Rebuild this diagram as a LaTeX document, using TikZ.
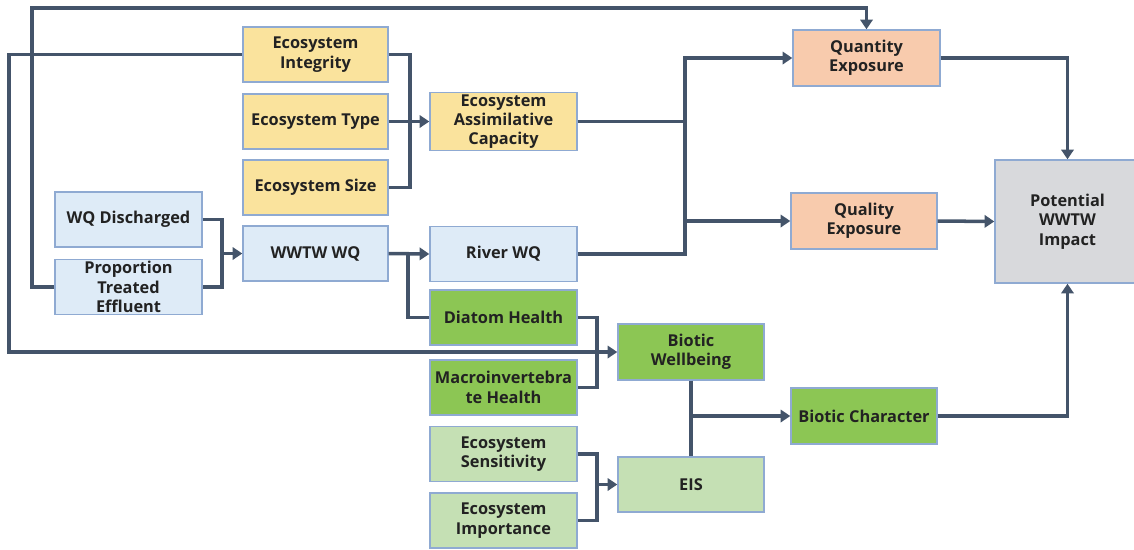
\documentclass[tikz,border=0pt]{standalone}
\usepackage{fontspec}
\setmainfont{Open Sans}
\usetikzlibrary{arrows.meta,calc}
\definecolor{yel}{RGB}{250,227,157}
\definecolor{lblue}{RGB}{222,235,247}
\definecolor{grn}{RGB}{140,198,84}
\definecolor{lgrn}{RGB}{197,224,180}
\definecolor{peach}{RGB}{248,203,173}
\definecolor{gry}{RGB}{216,217,220}
\definecolor{edge}{RGB}{143,170,210}
\definecolor{wire}{RGB}{68,84,106}
\definecolor{ink}{RGB}{34,34,34}
\tikzset{
  box/.style={draw=edge, line width=0.8pt, minimum width=2.9cm, minimum height=1.1cm,
    align=center, inner sep=1pt, text=ink, font=\bfseries\fontsize{9.3}{11}\selectfont},
  link/.style={draw=wire, line width=2pt},
  arr/.style={link, -{Triangle[length=5.5pt,width=7pt]}},
}

\begin{document}
\begin{tikzpicture}[x=0.02cm,y=-0.02cm]
	\useasboundingbox (0,0) rectangle (1134,549);

	%%%%% boxes %%%%%
	\node[box,fill=yel] (integ) at (315.5,54.5) {Ecosystem\\Integrity};
	\node[box,fill=yel] (etype) at (315.5,121.5) {Ecosystem Type};
	\node[box,fill=yel] (esize) at (315.5,187.5) {Ecosystem Size};
	\node[box,fill=yel,minimum width=2.94cm] (assim) at (503.5,121.5) {Ecosystem\\Assimilative\\Capacity};

	\node[box,fill=lblue,minimum width=2.94cm] (wqd) at (128.5,219.5) {WQ Discharged};
	\node[box,fill=lblue,minimum width=2.94cm] (pte) at (128.5,287) {Proportion\\Treated\\Effluent};
	\node[box,fill=lblue] (wwtw) at (315.5,253.5) {WWTW WQ};
	\node[box,fill=lblue,minimum width=2.94cm] (river) at (503.5,254) {River WQ};

	\node[box,fill=grn,minimum width=2.94cm] (diatom) at (503.5,317.5) {Diatom Health};
	\node[box,fill=grn,minimum width=2.94cm] (macro) at (503.5,387.5) {Macroinvertebra\\te Health};
	\node[box,fill=lgrn,minimum width=2.94cm] (sens) at (503.5,454) {Ecosystem\\Sensitivity};
	\node[box,fill=lgrn,minimum width=2.94cm] (impo) at (503.5,520.5) {Ecosystem\\Importance};

	\node[box,fill=grn,minimum width=2.92cm,minimum height=1.12cm] (bwell) at (691,352) {Biotic\\Wellbeing};
	\node[box,fill=lgrn,minimum width=2.92cm] (eis) at (691,484.5) {EIS};
	\node[box,fill=grn,minimum width=2.92cm,minimum height=1.12cm] (bchar) at (864,416) {Biotic Character};

	\node[box,fill=peach,minimum width=2.94cm,minimum height=1.12cm] (qty) at (866.5,58) {Quantity\\Exposure};
	\node[box,fill=peach,minimum width=2.92cm,minimum height=1.12cm] (qly) at (864,221) {Quality\\Exposure};
	\node[box,fill=gry,minimum width=2.9cm,minimum height=2.46cm] (impact) at (1067.5,221.5) {Potential\\WWTW\\Impact};

	%%%%% junctions %%%%%
	\coordinate (topleft) at (32,8);
	\coordinate (farleft) at (9,54.5);
	\coordinate (ejoin) at (410,121.5);
	\coordinate (wjoin) at (222,253.5);
	\coordinate (djoin) at (408,253.5);
	\coordinate (xjoin) at (685,121.5);
	\coordinate (mjoin) at (597,352);
	\coordinate (sjoin) at (597,484.5);

	%%%%% wires %%%%%
	\draw[arr] (pte.west) -| (topleft) -- (qty.north |- topleft) -- (qty.north);
	\draw[arr] (integ.west) -- (farleft) |- (bwell.west);

	\draw[link] (integ.east) -| (ejoin) |- (esize.east);
	\draw[arr] (etype.east) -- (assim.west);

	\draw[link] (wqd.east) -| (wjoin) |- (pte.east);
	\draw[arr] (wjoin) -- (wwtw.west);
	\draw[arr] (wwtw.east) -- (river.west);
	\draw[link] (djoin) |- (diatom.west);

	\draw[link] (assim.east) -- (xjoin) |- (river.east);
	\draw[arr] (xjoin) |- (qty.west);
	\draw[arr] (xjoin |- qly.west) -- (qly.west);

	\draw[arr] (qty.east) -| (impact.north);
	\draw[arr] (qly.east) -- (impact.west);
	\draw[arr] (bchar.east) -| (impact.south);

	\draw[link] (diatom.east) -| (mjoin) |- (macro.east);
	\draw[link] (sens.east) -| (sjoin) |- (impo.east);
	\draw[arr] (sjoin) -- (eis.west);

	\draw[link] (bwell.south) -- (eis.north);
	\draw[arr] (bwell.south |- bchar.west) -- (bchar.west);
\end{tikzpicture}
\end{document}
